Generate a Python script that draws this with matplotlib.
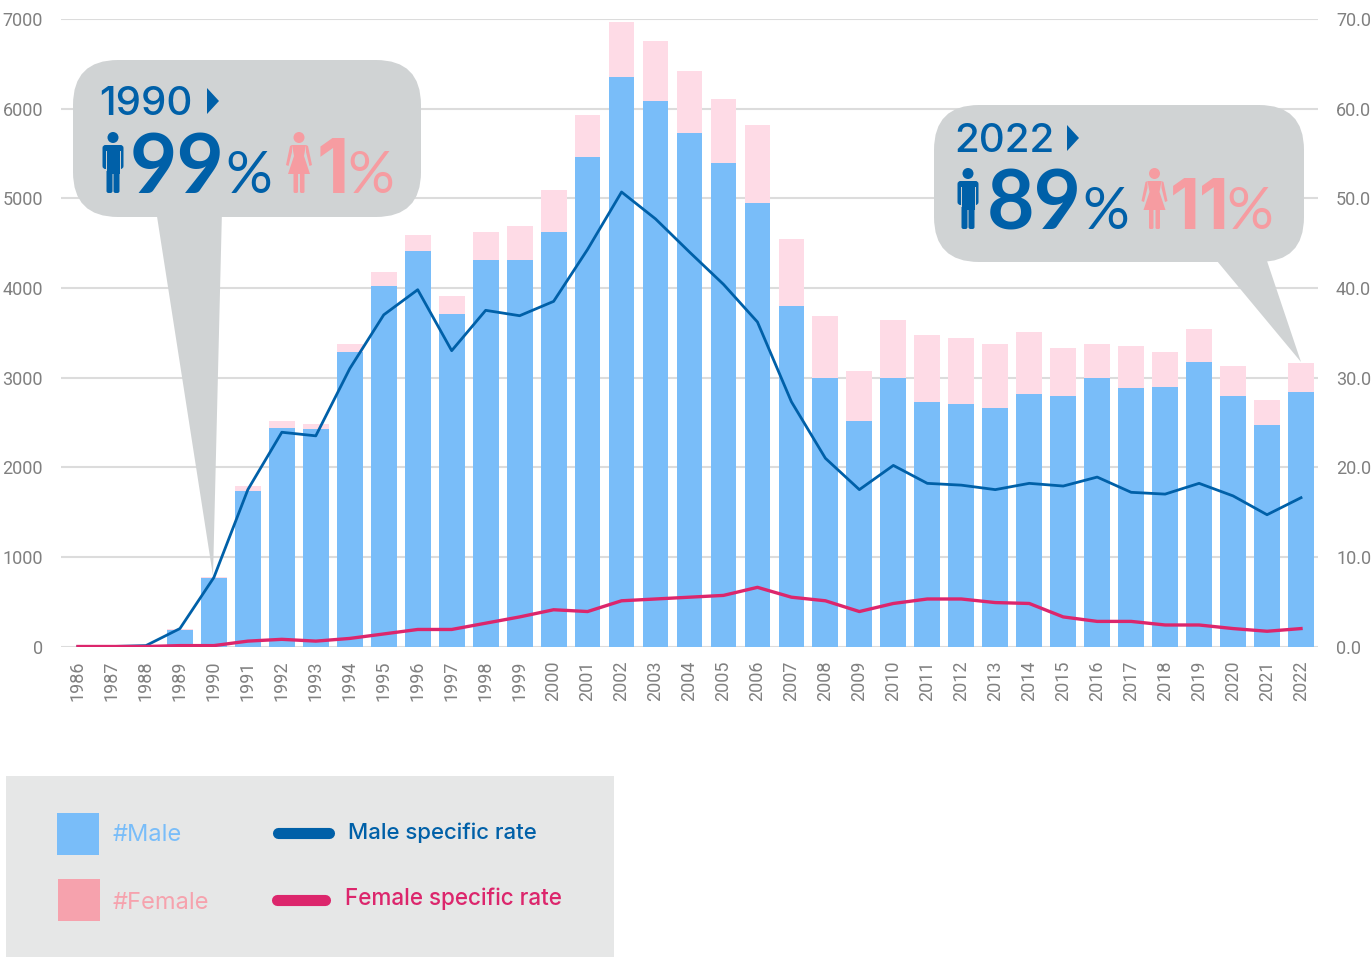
#!/usr/bin/env python3
import matplotlib
matplotlib.use('Agg')
import matplotlib.pyplot as plt
import numpy as np
from matplotlib.patches import Circle, FancyBboxPatch, Polygon, Rectangle

W, H = 1371, 957
MALE_BLUE = '#79bdf9'
FEMALE_PINK = '#fedbe6'
LINE_BLUE = '#0060a8'
LINE_PINK = '#dc266c'
SALMON = '#f69ca1'
BUBBLE = '#d0d3d4'
GREY = '#808080'
NARROW = ['Roboto', 'DejaVu Sans']
WIDE = ['Inter', 'DejaVu Sans']
BIG = ['Lato', 'DejaVu Sans']

years = list(range(1986, 2023))
male_n = [0, 0, 5, 180, 760, 1730, 2440, 2430, 3280, 4020, 4410, 3710, 4310, 4310, 4620, 5460,
          6350, 6080, 5730, 5390, 4950, 3800, 2990, 2510, 2990, 2730, 2700, 2660, 2820, 2800,
          2990, 2880, 2890, 3170, 2800, 2470, 2840]
total_n = [0, 0, 5, 195, 780, 1790, 2510, 2480, 3380, 4180, 4590, 3910, 4620, 4690, 5090, 5930,
           6970, 6750, 6420, 6110, 5820, 4550, 3690, 3070, 3640, 3470, 3440, 3380, 3510, 3330,
           3380, 3350, 3290, 3540, 3130, 2750, 3160]
male_rate = [0, 0, 0.1, 2.0, 7.7, 17.5, 23.9, 23.5, 31.0, 37.0, 39.8, 33.0, 37.5, 36.9, 38.5, 44.3,
             50.7, 47.7, 44.0, 40.4, 36.2, 27.3, 21.0, 17.5, 20.2, 18.2, 18.0, 17.5, 18.2, 17.9,
             18.9, 17.2, 17.0, 18.2, 16.8, 14.7, 16.6]
female_rate = [0, 0, 0, 0.1, 0.1, 0.6, 0.8, 0.6, 0.9, 1.4, 1.9, 1.9, 2.6, 3.3, 4.1, 3.9,
               5.1, 5.3, 5.5, 5.7, 6.6, 5.5, 5.1, 3.9, 4.8, 5.3, 5.3, 4.9, 4.8, 3.3,
               2.8, 2.8, 2.4, 2.4, 2.0, 1.7, 2.0]
left_ticks = [0, 1000, 2000, 3000, 4000, 5000, 6000, 7000]
right_ticks = [0, 10, 20, 30, 40, 50, 60, 70]

female_n = [t - m for t, m in zip(total_n, male_n)]

fig = plt.figure(figsize=(W / 100, H / 100), dpi=100)
rect = [61 / W, 1 - 646.5 / H, (1318 - 61) / W, (646.5 - 19) / H]

# bars and grid at the back
ax = fig.add_axes(rect, zorder=1)
ax.bar(years, male_n, 0.76, color=MALE_BLUE)
ax.bar(years, female_n, 0.76, bottom=male_n, color=FEMALE_PINK)
ax.set_xlim(1985.5, 2022.5)
ax.set_ylim(0, 7000)
ax.set_yticks(left_ticks)
ax.set_yticklabels([str(v) for v in left_ticks], fontsize=13, color=GREY, family=NARROW)
ax.set_xticks(years)
ax.set_xticklabels([str(y) for y in years], rotation=90, fontsize=13, color=GREY, family=NARROW)
ax.tick_params(axis='y', length=0, pad=13)
ax.tick_params(axis='x', length=0, pad=10)
ax.grid(axis='y', color='#dcdcdc', linewidth=1.5)
ax.set_axisbelow(True)
for s in ax.spines.values():
    s.set_visible(False)
ax.axhline(0, color='#d4d4d4', linewidth=2, zorder=0.5)

# overlay in pixel coords for bubbles + legend
ov = fig.add_axes([0, 0, 1, 1], zorder=2)
ov.set_xlim(0, W)
ov.set_ylim(H, 0)
ov.axis('off')


def bubble(x0, y0, x1, y1, tail):
    ov.add_patch(Polygon(tail, closed=True, color=BUBBLE, lw=0))
    r = 45
    ov.add_patch(FancyBboxPatch((x0 + r, y0 + r), x1 - x0 - 2 * r, y1 - y0 - 2 * r,
                                boxstyle=f'round,pad={r},rounding_size={r}', fc=BUBBLE, ec='none'))


def man(cx, top):
    ov.add_patch(Circle((cx, top + 5.5), 5.5, color=LINE_BLUE, lw=0))
    ov.add_patch(FancyBboxPatch((cx - 10.5, top + 13), 21, 24, boxstyle='round,pad=0,rounding_size=3',
                                fc=LINE_BLUE, ec='none'))
    ov.add_patch(Rectangle((cx - 6.5, top + 14), 13, 28, color=LINE_BLUE, lw=0))
    ov.add_patch(FancyBboxPatch((cx - 6.5, top + 36), 6, 25, boxstyle='round,pad=0,rounding_size=2',
                                fc=LINE_BLUE, ec='none'))
    ov.add_patch(FancyBboxPatch((cx + 0.5, top + 36), 6, 25, boxstyle='round,pad=0,rounding_size=2',
                                fc=LINE_BLUE, ec='none'))
    ov.plot([cx - 7, cx - 7], [top + 19, top + 38], color=BUBBLE, lw=0.7)
    ov.plot([cx + 7, cx + 7], [top + 19, top + 38], color=BUBBLE, lw=0.7)


def woman(cx, top):
    ov.add_patch(Circle((cx, top + 5.5), 5.5, color=SALMON, lw=0))
    ov.add_patch(Polygon([(cx - 7, top + 13), (cx + 7, top + 13), (cx + 5, top + 24), (cx + 11, top + 42),
                          (cx - 11, top + 42), (cx - 5, top + 24)],
                         closed=True, color=SALMON, lw=0))
    ov.add_patch(Polygon([(cx - 7, top + 13), (cx - 9, top + 14), (cx - 13, top + 33), (cx - 10.5, top + 34),
                          (cx - 7, top + 20)], closed=True, color=SALMON, lw=0))
    ov.add_patch(Polygon([(cx + 7, top + 13), (cx + 9, top + 14), (cx + 13, top + 33), (cx + 10.5, top + 34),
                          (cx + 7, top + 20)], closed=True, color=SALMON, lw=0))
    ov.add_patch(FancyBboxPatch((cx - 5.5, top + 40), 4.5, 21, boxstyle='round,pad=0,rounding_size=1.5',
                                fc=SALMON, ec='none'))
    ov.add_patch(FancyBboxPatch((cx + 1, top + 40), 4.5, 21, boxstyle='round,pad=0,rounding_size=1.5',
                                fc=SALMON, ec='none'))


def stat(x, base, s, size, color, weight='normal', fam=BIG):
    ov.text(x, base, s, fontsize=size, color=color, fontweight=weight, family=fam, va='baseline', ha='left')


bubble(73, 60, 421, 217, [(156, 210), (213, 576), (222, 210)])
stat(99, 115, '1990', 29, LINE_BLUE, 'medium', WIDE)
ov.add_patch(Polygon([(207, 88), (219, 101), (207, 114)], closed=True, color=LINE_BLUE, lw=0))
man(113, 132)
stat(130, 193, '99', 59, LINE_BLUE, 'bold')
stat(225, 193, '%', 42, LINE_BLUE)
woman(299, 132)
stat(317, 193, '1', 54, SALMON, 'bold', WIDE)
stat(347, 193, '%', 42, SALMON)

bubble(934, 105, 1304, 262, [(1212, 255), (1301, 362), (1265, 255)])
stat(954, 152, '2022', 29, LINE_BLUE, 'medium', WIDE)
ov.add_patch(Polygon([(1067, 125), (1079, 138), (1067, 151)], closed=True, color=LINE_BLUE, lw=0))
man(968, 168)
stat(987, 229, '89', 59, LINE_BLUE, 'bold')
stat(1082, 229, '%', 42, LINE_BLUE)
woman(1154.5, 168)
stat(1170, 229, '11', 50, SALMON, 'bold', WIDE)
stat(1226, 229, '%', 42, SALMON)

# legend panel
ov.add_patch(Rectangle((6, 776), 608, 181, color='#e6e7e7', lw=0))
ov.add_patch(Rectangle((57, 813), 42, 42, color=MALE_BLUE, lw=0))
ov.add_patch(Rectangle((58, 879), 42, 42, color='#f6a2ad', lw=0))
ov.text(113, 835, '#Male', fontsize=17, color=MALE_BLUE, family=WIDE, va='center')
ov.text(113, 903, '#Female', fontsize=17, color='#f6a2ad', family=WIDE, va='center')
ov.plot([278, 329], [833, 833], color=LINE_BLUE, lw=8, solid_capstyle='round')
ov.plot([277, 325], [900, 900], color=LINE_PINK, lw=8, solid_capstyle='round')
ov.text(348, 833, 'Male specific rate', fontsize=16, color=LINE_BLUE, family=WIDE, va='center', fontweight='medium')
ov.text(345, 899, 'Female specific rate', fontsize=16.2, color=LINE_PINK, family=WIDE, va='center', fontweight='medium')

# rate lines go on top of the bubbles
ax2 = fig.add_axes(rect, zorder=3, sharex=ax)
ax2.patch.set_visible(False)
ax2.plot(years, male_rate, color=LINE_BLUE, lw=2)
ax2.plot(years, female_rate, color=LINE_PINK, lw=2.4)
ax2.set_ylim(0, 70)
ax2.yaxis.tick_right()
ax2.set_yticks(right_ticks)
ax2.set_yticklabels([f'{v:.1f}' for v in right_ticks], fontsize=13, color=GREY, family=NARROW)
ax2.tick_params(axis='y', length=0, pad=13)
ax2.tick_params(axis='x', length=0, labelbottom=False)
for s in ax2.spines.values():
    s.set_visible(False)

fig.savefig('out.png', dpi=100)
